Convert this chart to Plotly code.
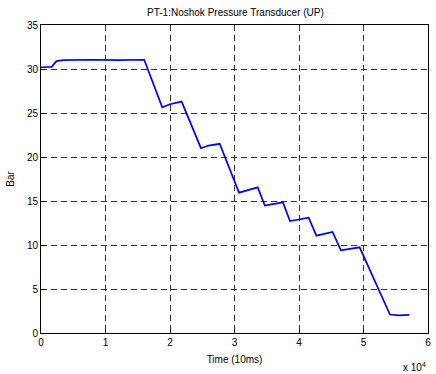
import plotly.graph_objects as go

# Pressure trace (time in units of 10 ms, pressure in bar)
time_10ms = [0, 1650, 2400, 3500, 8000, 12000, 16000, 18800, 20000, 21800,
             24800, 26000, 27700, 30700, 33600, 34700, 37500, 38600, 41500,
             42700, 45200, 46500, 49400, 54100, 55500, 57100]
pressure_bar = [30.2, 30.25, 30.9, 31.0, 31.05, 31.0, 31.05, 25.65, 26.0, 26.3,
                21.0, 21.3, 21.5, 15.95, 16.55, 14.47, 14.85, 12.73, 13.1,
                11.06, 11.48, 9.4, 9.74, 2.1, 2.0, 2.05]

x_ticks = [0, 1, 2, 3, 4, 5, 6]
y_ticks = [0, 5, 10, 15, 20, 25, 30, 35]

fig = go.Figure()
fig.add_trace(go.Scatter(
    x=[t / 1e4 for t in time_10ms], y=pressure_bar,
    mode="lines", line=dict(color="#0000ff", width=1.7),
    showlegend=False, hoverinfo="skip",
))

font = dict(family="Liberation Sans, Arial, sans-serif", size=10, color="#000")
axis_common = dict(
    showline=True, linecolor="#000", linewidth=1, mirror=True,
    ticks="inside", ticklen=4, tickcolor="#000",
    showgrid=True, gridcolor="#333", gridwidth=1, griddash="6px,4px",
    zeroline=False, tickfont=font,
)

fig.update_layout(
    width=436, height=374,
    margin=dict(l=41, r=5, t=25, b=41),
    paper_bgcolor="#fff", plot_bgcolor="#fff",
    font=font,
    title=dict(text="PT-1:Noshok Pressure Transducer (UP)", x=0.54, xanchor="center",
               y=0.967, yanchor="middle", font=dict(size=10, family=font["family"])),
    xaxis=dict(range=[0, 6], tickvals=x_ticks, ticktext=[str(v) for v in x_ticks],
               title=dict(text="Time (10ms)", font=font, standoff=8), **axis_common),
    yaxis=dict(range=[0, 35], tickvals=y_ticks, ticktext=[str(v) for v in y_ticks],
               title=dict(text="Bar", font=font, standoff=10), **axis_common),
    annotations=[dict(text="x 10<sup>4</sup>", xref="paper", yref="paper",
                      x=1.0, y=-0.112, xanchor="right", yanchor="middle",
                      showarrow=False, font=font)],
)

fig.write_html("out.html")
